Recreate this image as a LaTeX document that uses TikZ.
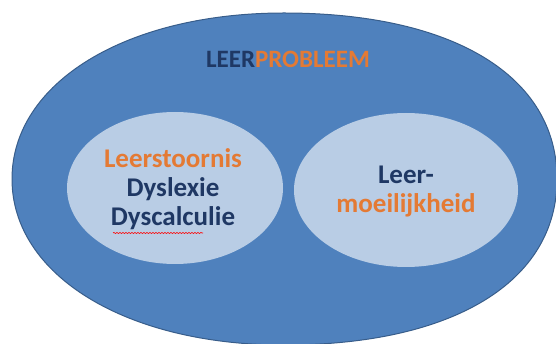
\documentclass[tikz,border=0pt]{standalone}
\usepackage{fontspec}
\setmainfont{Carlito}
\usetikzlibrary{decorations.pathmorphing}
\definecolor{outerblue}{RGB}{79,129,189}
\definecolor{outerline}{RGB}{56,93,138}
\definecolor{innerblue}{RGB}{185,205,229}
\definecolor{darktext}{RGB}{31,56,100}
\definecolor{orangetext}{RGB}{228,122,52}
\begin{document}
\begin{tikzpicture}[
    x=1pt, y=-1pt,
    label/.style={font=\bfseries\fontsize{27}{29}\selectfont, align=center, text=darktext}
]
    \useasboundingbox (0,0) rectangle (556,344);
    % Outer shape (slightly boxy on the right)
    \draw[outerline, line width=1pt, fill=outerblue]
        (12,179) .. controls (12,82.7) and (126.2,13) .. (284,13)
        .. controls (453.3,13) and (557,76.1) .. (557,179)
        .. controls (557,281.9) and (453.3,345) .. (284,345)
        .. controls (126.2,345) and (12,275.3) .. (12,179) -- cycle;
    \node[font=\bfseries\fontsize{25}{28}\selectfont, text=darktext] (title) at (288,59)
        {LEER\textcolor{orangetext}{PROBLEEM}};

    % Inner ellipses
    \fill[innerblue] (175,188) ellipse [x radius=108, y radius=76];
    \fill[innerblue] (406,190) ellipse [x radius=112, y radius=77];

    \node[label] (stoornis) at (173,189)
        {\textcolor{orangetext}{Leerstoornis}\\Dyslexie\\Dyscalculie};
    \node[label] (moeilijk) at (406,192)
        {Leer-\\\textcolor{orangetext}{moeilijkheid}};

    % spelling underline
    \coordinate (wavea) at (113,233);
    \coordinate (waveb) at (203,233);
    \draw[red, line width=0.6pt, decorate, decoration={snake, amplitude=0.6pt, segment length=3pt}]
        (wavea) -- (waveb);
\end{tikzpicture}
\end{document}
